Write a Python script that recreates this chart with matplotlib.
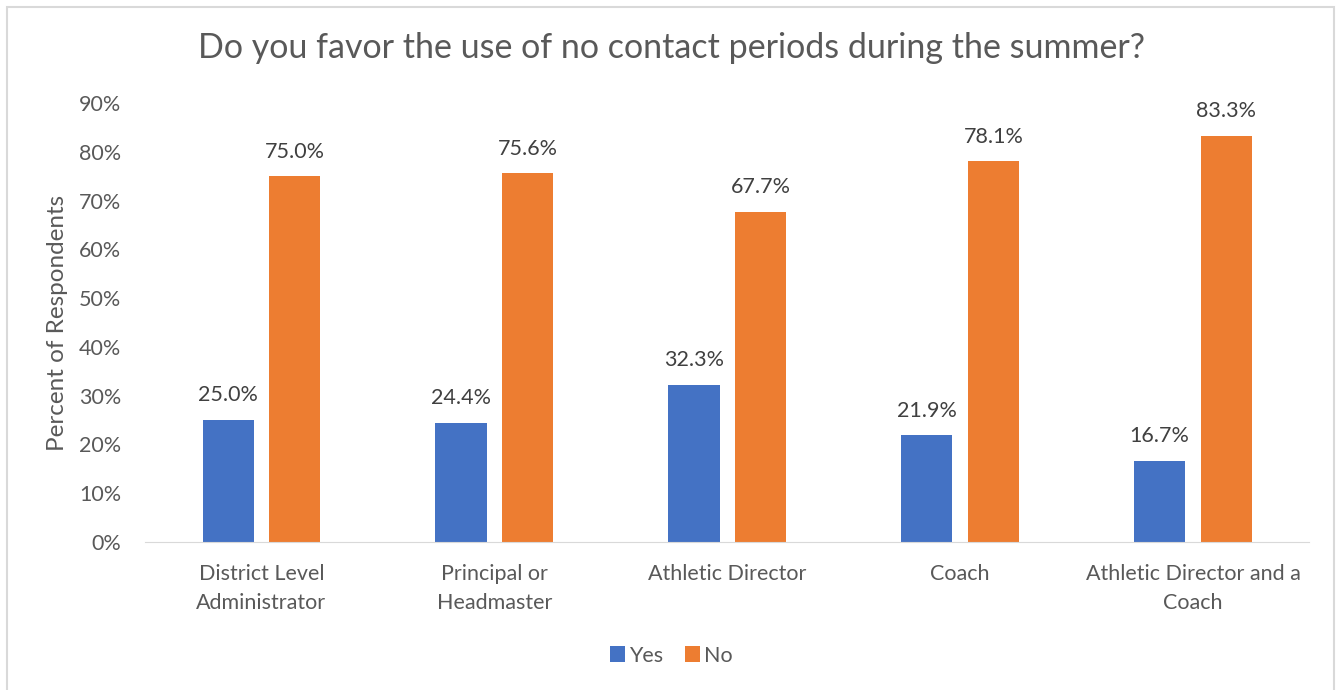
import numpy as np
import matplotlib.pyplot as plt
from matplotlib.patches import Rectangle

categories = ['District Level\nAdministrator', 'Principal or\nHeadmaster', 'Athletic Director',
              'Coach', 'Athletic Director and a\nCoach']
yes = [25.0, 24.4, 32.3, 21.9, 16.7]
no = [75.0, 75.6, 67.7, 78.1, 83.3]

plt.rcParams['font.family'] = ['Lato', 'DejaVu Sans']
txt = '#595959'

fig = plt.figure(figsize=(13.43, 6.90), dpi=100)
fig.patches.append(Rectangle((0.005, -0.01), 0.988, 1.0, transform=fig.transFigure,
                             fill=False, edgecolor='#d9d9d9', linewidth=1.5))
ax = fig.add_axes([0.108, 0.2145, 0.867, 0.636])

x = np.arange(len(categories))
w = 0.22
b1 = ax.bar(x - 0.143, yes, w, color='#4472c4', label='Yes')
b2 = ax.bar(x + 0.143, no, w, color='#ed7d31', label='No')
for bars, vals in [(b1, yes), (b2, no)]:
    for r, v in zip(bars, vals):
        ax.text(r.get_x() + r.get_width() / 2, v + 3.0, f'{v:.1f}%', ha='center', va='bottom',
                fontsize=15.5, color='#404040')

ax.set_xlim(-0.5, 4.5)
ax.set_ylim(0, 90)
ax.set_yticks(range(0, 91, 10))
ax.set_yticklabels([f'{t}%' for t in range(0, 91, 10)])
ax.set_xticks(x)
ax.set_xticklabels(categories, linespacing=1.55)
ax.tick_params(length=0, labelsize=15.5, colors=txt)
ax.tick_params(axis='x', pad=16)
ax.tick_params(axis='y', pad=17)
for s in ['top', 'right', 'left']:
    ax.spines[s].set_visible(False)
ax.spines['bottom'].set_color('#d9d9d9')
ax.set_ylabel('Percent of Respondents', fontsize=17.5, color=txt, labelpad=8)
fig.suptitle('Do you favor the use of no contact periods during the summer?', fontsize=24.5,
             color=txt, y=0.953)
fig.legend(handles=[b1, b2], loc='center', bbox_to_anchor=(0.5, 0.05), ncol=2, frameon=False,
           fontsize=15.5, labelcolor=txt, handlelength=0.7, handleheight=0.8, handletextpad=0.2,
           columnspacing=1.0)
fig.savefig('out.png', dpi=100)
